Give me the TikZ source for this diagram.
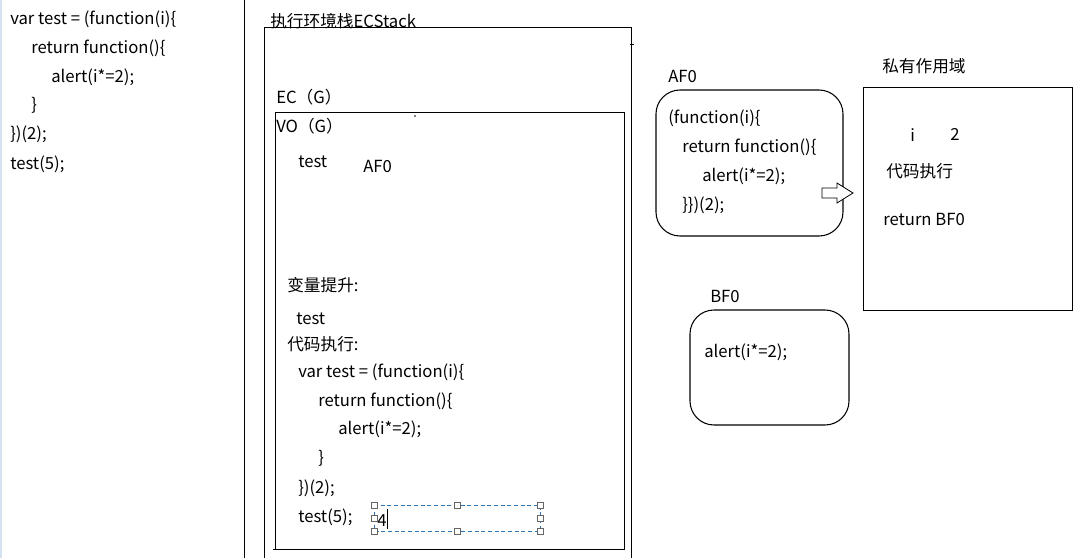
\documentclass[tikz,border=0pt]{standalone}
\usepackage{fontspec}
\setmainfont{Noto Sans CJK SC}
\definecolor{selblue}{HTML}{2E75B6}
\definecolor{edgeblue}{HTML}{D6E2F2}
\tikzset{
  txt/.style={anchor=west,inner sep=0pt,yshift=-1.2pt,font=\fontsize{12.5}{14}\selectfont},
  frame/.style={draw=black,line width=0.9pt},
  rbox/.style={draw=black,line width=0.8pt,rounded corners=18pt},
  handle/.style={draw=gray!80!black,fill=white,line width=0.5pt,minimum size=4.5pt,inner sep=0pt},
}
\begin{document}
\begin{tikzpicture}[x=0.75pt,y=-0.75pt]
\useasboundingbox (0,0) rectangle (1083,558);
\fill[white] (0,0) rectangle (1083,558);
\draw[edgeblue,line width=1.2pt] (0.8,0) -- (0.8,558);
% left code
\node[txt] (l1) at (10,18) {var test = (function(i)\{};
\node[txt] (l2) at (31,47) {return function()\{};
\node[txt] (l3) at (51,76) {alert(i*=2);};
\node[txt] (l4) at (31,104) {\}};
\node[txt] (l5) at (10,133) {\})(2);};
\node[txt] (l6) at (10,163) {test(5);};
\draw[frame] (244.5,0) -- (244.5,558);
% ECStack
\node[txt] (ect) at (270,20) {执行环境栈ECStack};
\draw[frame] (264.5,558) -- (264.5,27.5) -- (631.5,27.5) -- (631.5,558);
\draw[line width=0.6pt] (629.5,44) -- (633.5,44);
\node[txt] (ecg) at (276,96) {EC（G）};
\draw[frame] (275.5,112.5) rectangle (624.5,549.5);
\draw[frame] (273,549.5) -- (276,549.5);
\fill (415,116) circle (0.6pt);
\node[txt] (vog) at (276,125) {VO（G）};
\node[txt] (vt) at (298,160) {test};
\node[txt] (vaf) at (363,165) {AF0};
\node[txt] (h1) at (287,284) {变量提升:};
\node[txt] (h2) at (296,317) {test};
\node[txt] (h3) at (287,343) {代码执行:};
\node[txt] (c1) at (298,371) {var test = (function(i)\{};
\node[txt] (c2) at (318,400) {return function()\{};
\node[txt] (c3) at (338,428) {alert(i*=2);};
\node[txt] (c4) at (318,457) {\}};
\node[txt] (c5) at (298,487) {\})(2);};
\node[txt] (c6) at (298,516) {test(5);};
% selection box
\draw[selblue,line width=0.6pt,dash pattern=on 3pt off 2pt] (374,505) rectangle (540,531);
\node[txt] (four) at (377,519) {4};
\draw[black,line width=0.6pt] (387,509) -- (387,529);
\foreach \hx/\hy [count=\k] in {374/505,457/505,540/505,374/518,540/518,374/531,457/531,540/531}
  \node[handle] (hd\k) at (\hx,\hy) {};
% AF0 box
\node[txt] (afl) at (668,75) {AF0};
\draw[rbox] (656,90) rectangle (843,236);
\node[txt] (a1) at (668,117) {(function(i)\{};
\node[txt] (a2) at (682,146) {return function()\{};
\node[txt] (a3) at (702,175) {alert(i*=2);};
\node[txt] (a4) at (682,204) {\}\})(2);};
% arrow
\draw[line width=0.6pt,fill=white] (822,188) -- (837,188) -- (837,183) -- (853,193) -- (837,203) -- (837,198) -- (822,198) -- cycle;
% private scope
\node[txt] (pvl) at (882,65) {私有作用域};
\draw[frame] (863.5,87.5) rectangle (1072.5,310.5);
\node[txt] (pi) at (910,133) {i};
\node[txt] (p2) at (950,133) {2};
\node[txt] (pc) at (886,170) {代码执行};
\node[txt] (pr) at (883,218) {return BF0};
% BF0 box
\node[txt] (bfl) at (710,295) {BF0};
\draw[rbox] (690,310) rectangle (849,425);
\node[txt] (b1) at (704,351) {alert(i*=2);};
\end{tikzpicture}
\end{document}
